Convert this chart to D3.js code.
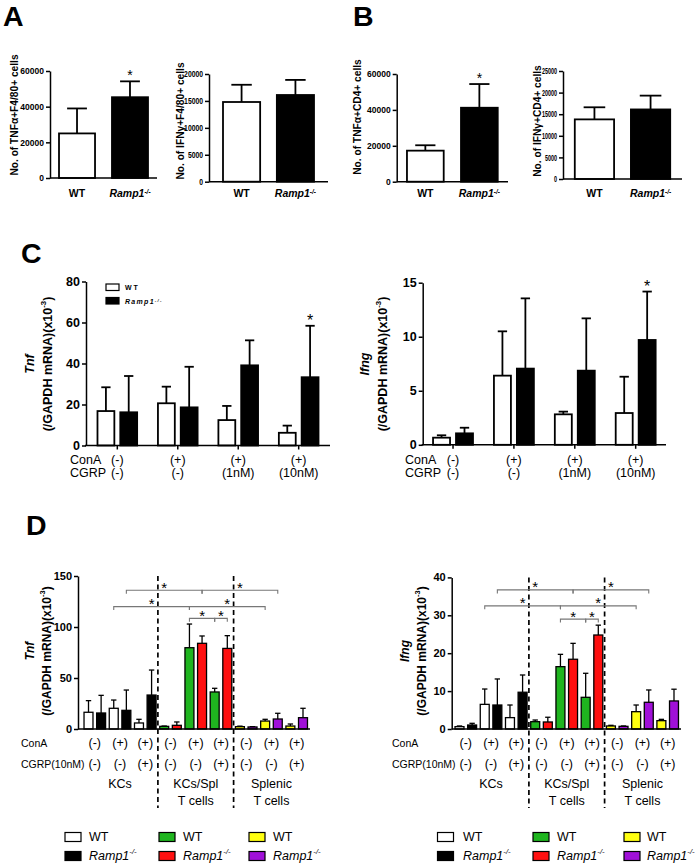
<!DOCTYPE html>
<html><head><meta charset="utf-8">
<script src="https://cdn.jsdelivr.net/npm/d3@7"></script>
<style>body{margin:0;background:#fff}svg{display:block}</style>
</head><body>
<svg id="c" width="700" height="868"></svg>
<script>
// ---------------- DATA ----------------
const genotypes = ["WT", "Ramp1"];
// Panel A (F4/80+ cells)
const aTnfMean = [25000, 45300], aTnfErr = [14000, 8900];
const aIfnMean = [14800, 16100], aIfnErr = [3200, 2800];
// Panel B (CD4+ cells)
const bTnfMean = [17300, 41200], bTnfErr = [3000, 13200];
const bIfnMean = [13800, 16100], bIfnErr = [2800, 3200];
const ticksA1 = [0, 20000, 40000, 60000];
const ticksA2 = [0, 5000, 10000, 15000, 20000];
const ticksB1 = [0, 20000, 40000, 60000];
const ticksB2 = [0, 5000, 10000, 15000, 20000, 25000];
// Panel C
const cConA = ["(-)", "(+)", "(+)", "(+)"];
const cCgrp = ["(-)", "(-)", "(1nM)", "(10nM)"];
const cTnfWT = [16.8, 20.6, 12.4, 6.2], cTnfWTErr = [11.6, 8.1, 6.9, 3.5];
const cTnfKO = [16.2, 18.6, 39.1, 33.3], cTnfKOErr = [17.7, 19.8, 12.2, 25.1];
const cIfnWT = [0.66, 6.4, 2.82, 2.94], cIfnWTErr = [0.22, 4.1, 0.25, 3.36];
const cIfnKO = [1.06, 7.05, 6.86, 9.7], cIfnKOErr = [0.52, 6.5, 4.84, 4.48];
const ticksCTnf = [0, 20, 40, 60, 80];
const ticksCIfn = [0, 5, 10, 15];
// Panel D
const dGroups = ["KCs", "KCs/Spl", "Splenic"];
const dGroupLines = [["KCs"], ["KCs/Spl", "T cells"], ["Splenic", "T cells"]];
const dConA = ["(-)", "(+)", "(+)"];
const dCgrp = ["(-)", "(-)", "(+)"];
const dTnf = [16.4, 15.7, 20.3, 18.3, 5.9, 33.3, 2.6, 3.6, 79.7, 84, 36.3, 79, 2.3, 2, 7.8, 9.8, 2.9, 11.1];
const dTnfErr = [11.4, 17.3, 8.1, 19.9, 3.6, 24.5, 0.3, 3.3, 23.2, 7.2, 3.6, 12.5, 0.5, 0.3, 1.7, 5.6, 2, 9.2];
const dIfn = [0.62, 1.05, 6.5, 6.33, 3, 9.7, 1.93, 1.85, 16.45, 18.4, 8.36, 24.8, 0.8, 0.7, 4.57, 7.05, 2.2, 7.4];
const dIfnErr = [0.18, 0.45, 4.05, 6.87, 3.33, 4.55, 0.44, 1.25, 3.25, 4.2, 6.34, 2.6, 0.17, 0.1, 1.76, 3.25, 0.35, 3.1];
const ticksDTnf = [0, 50, 100, 150];
const ticksDIfn = [0, 10, 20, 30, 40];
// significance brackets: [fromBar, toBar]
const dBrackets = [[3, 9], [9, 15], [2, 8], [8, 14], [8, 10], [10, 11]];
const dBracketTnf = [136, 136, 120, 120, 108.5, 108.5];
const dBracketIfn = [36.7, 36.7, 32.5, 32.5, 29, 29];
// colors
const colWT = "#ffffff", colKO = "#000000";
const groupColors = [["#ffffff", "#000000"], ["#1fb51f", "#ff1010"], ["#ffff10", "#a010d8"]];

// ---------------- HELPERS ----------------
const FONT = '"Liberation Sans", Arial, Helvetica, sans-serif';
const svg = d3.select("#c").attr("font-family", FONT);

function richText(sel, parts, fs) {
  parts.forEach(p => {
    const ts = sel.append("tspan").text(p.t);
    if (p.i) ts.attr("font-style", "italic");
    if (p.sup) ts.attr("baseline-shift", "super").attr("font-size", fs * 0.62);
  });
  return sel;
}
function rampParts() { return [{ t: "Ramp1", i: true }, { t: "-/-", i: true, sup: true }]; }

function yAxis(g, x, y, ticks, fs, sx) {
  sx = sx || 1;
  const ax = g.append("g").attr("transform", `translate(${x},0)`)
    .call(d3.axisLeft(y).tickValues(ticks).tickSize(4).tickSizeOuter(0).tickPadding(2).tickFormat(d3.format("d")));
  ax.select(".domain").attr("stroke-width", 1.5).attr("stroke", "#000");
  ax.selectAll(".tick line").attr("stroke-width", 1.5).attr("stroke", "#000");
  ax.selectAll("text").attr("font-size", fs).attr("font-weight", "bold").attr("font-family", FONT).attr("fill", "#000");
  if (sx !== 1) ax.selectAll(".tick text").attr("x", -6 / sx).attr("transform", `scale(${sx},1)`);
  return ax;
}
function rotTitle(g, x, y, parts, fs) {
  const t = g.append("text").attr("transform", `translate(${x},${y}) rotate(-90)`)
    .attr("text-anchor", "middle").attr("dominant-baseline", "central")
    .attr("font-size", fs).attr("font-weight", "bold").attr("fill", "#000");
  return richText(t, parts, fs);
}
function star(g, cx, cy, fs) {
  g.append("text").attr("x", cx).attr("y", cy + 0.57 * fs).attr("text-anchor", "middle")
    .attr("font-size", fs).attr("fill", "#000").text("*");
}
function barsWithErr(g, xs, y, means, errs, fills, sw, cap) {
  const bw = xs.bandwidth();
  means.forEach((m, i) => {
    const cx = xs(i) + bw / 2, top = y(m + errs[i]);
    g.append("line").attr("x1", cx).attr("x2", cx).attr("y1", y(m)).attr("y2", top)
      .attr("stroke", "#000").attr("stroke-width", sw);
    g.append("line").attr("x1", cx - cap / 2).attr("x2", cx + cap / 2).attr("y1", top).attr("y2", top)
      .attr("stroke", "#000").attr("stroke-width", sw);
    g.append("rect").attr("x", xs(i)).attr("width", bw).attr("y", y(m)).attr("height", y(0) - y(m))
      .attr("fill", fills[i]).attr("stroke", "#000").attr("stroke-width", sw);
  });
}

// ---------------- PANEL A / B ----------------
function smallChart(o) {
  const g = svg.append("g");
  const y = d3.scaleLinear().domain([0, o.max]).range([o.yb, o.yt]);
  const xs = d3.scaleBand().domain(d3.range(2)).range([o.x0, o.x1]).paddingInner(o.pi).paddingOuter(o.po);
  barsWithErr(g, xs, y, o.mean, o.err, [colWT, colKO], 1.8, xs.bandwidth() * 0.55);
  g.append("line").attr("x1", o.x0).attr("x2", o.x1).attr("y1", y(0)).attr("y2", y(0)).attr("stroke", "#000").attr("stroke-width", 1.5);
  yAxis(g, o.x0, y, o.ticks, 8.5, o.sx);
  rotTitle(g, o.tx, o.ty, [{ t: o.title }], 10.2);
  genotypes.forEach((gt, i) => {
    const t = g.append("text").attr("x", xs(i) + xs.bandwidth() / 2).attr("y", 197)
      .attr("text-anchor", "middle").attr("font-size", 10.5).attr("font-weight", "bold");
    if (i === 0) t.text(gt); else richText(t, rampParts(), 10.5);
  });
  if (o.star) star(g, xs(1) + xs.bandwidth() / 2, y(o.mean[1] + o.err[1]) - 9, 14);
}
smallChart({ x0: 50, x1: 157, pi: 0.32, po: 0.17, yb: 178, yt: 71, max: 60000, ticks: ticksA1, sx: 1, mean: aTnfMean, err: aTnfErr, title: "No. of TNFα+F4/80+ cells", tx: 14, ty: 115, star: true });
smallChart({ x0: 209, x1: 328, pi: 0.31, po: 0.26, yb: 181.7, yt: 74, max: 20000, ticks: ticksA2, sx: 0.8, mean: aIfnMean, err: aIfnErr, title: "No. of IFNγ+F4/80+ cells", tx: 180, ty: 121 });
smallChart({ x0: 396.7, x1: 508, pi: 0.32, po: 0.19, yb: 181.7, yt: 74, max: 60000, ticks: ticksB1, sx: 1, mean: bTnfMean, err: bTnfErr, title: "No. of TNFα+CD4+ cells", tx: 357, ty: 117, star: true });
smallChart({ x0: 563, x1: 682, pi: 0.3, po: 0.21, yb: 179, yt: 71, max: 25000, ticks: ticksB2, sx: 0.64, mean: bIfnMean, err: bIfnErr, title: "No. of IFNγ+CD4+ cells", tx: 537, ty: 121 });

// panel letters
[["A", 3, 26], ["B", 353, 26], ["C", 21, 263], ["D", 26, 535]].forEach(([l, x, yy]) => {
  svg.append("text").attr("x", x).attr("y", yy).attr("font-size", 28.5).attr("font-weight", "bold").text(l);
});

// ---------------- PANEL C ----------------
function cChart(o) {
  const g = svg.append("g");
  const y = d3.scaleLinear().domain([0, o.max]).range([o.yb, o.yt]);
  const xg = d3.scaleBand().domain(d3.range(4)).range([o.x0, o.x1]).paddingInner(0.344).paddingOuter(o.po);
  const xi = d3.scaleBand().domain([0, 1]).range([0, xg.bandwidth()]).paddingInner(0.26);
  const bw = xi.bandwidth();
  d3.range(4).forEach(k => {
    const xs = d3.scaleBand().domain([0, 1]).range([xg(k), xg(k) + xg.bandwidth()]).paddingInner(0.26);
    barsWithErr(g, xs, y, [o.wt[k], o.ko[k]], [o.wtE[k], o.koE[k]], [colWT, colKO], 1.8, bw * 0.55);
  });
  g.append("line").attr("x1", o.x0 - 1).attr("x2", o.x1).attr("y1", y(0)).attr("y2", y(0)).attr("stroke", "#000").attr("stroke-width", 1.5);
  d3.range(4).forEach(k => {
    const cx = xg(k) + xg.bandwidth() / 2;
    g.append("line").attr("x1", cx).attr("x2", cx).attr("y1", y(0)).attr("y2", y(0) + 4).attr("stroke", "#000").attr("stroke-width", 1.5);
    g.append("text").attr("x", cx).attr("y", 460).attr("dominant-baseline", "central").attr("text-anchor", "middle").attr("font-size", 12.5).text(cConA[k]);
    g.append("text").attr("x", cx).attr("y", 473).attr("dominant-baseline", "central").attr("text-anchor", "middle").attr("font-size", 12.5).text(cCgrp[k]);
  });
  g.append("text").attr("x", o.lx).attr("y", 460).attr("dominant-baseline", "central").attr("font-size", 12.5).text("ConA");
  g.append("text").attr("x", o.lx).attr("y", 473).attr("dominant-baseline", "central").attr("font-size", 12.5).text("CGRP");
  yAxis(g, o.x0, y, o.ticks, 12.5);
  rotTitle(g, o.tx, o.ty, [{ t: o.gene, i: true }], 12.5);
  rotTitle(g, o.tx + 18, o.ty, [{ t: "(/GAPDH mRNA)(x10" }, { t: "-3", sup: true }, { t: ")" }], 12.5);
  const k = 3, cx = xg(k) + xi(1) + bw / 2;
  star(g, cx, y(o.ko[k] + o.koE[k]) - 9, 16);
  return { g, xg };
}
cChart({ x0: 86, x1: 330, po: 0.19, yb: 445.5, yt: 281.5, max: 80, ticks: ticksCTnf, wt: cTnfWT, wtE: cTnfWTErr, ko: cTnfKO, koE: cTnfKOErr, gene: "Tnf", tx: 30, ty: 364, lx: 70 });
cChart({ x0: 422.7, x1: 666, po: 0.17, yb: 444.8, yt: 282.7, max: 15, ticks: ticksCIfn, wt: cIfnWT, wtE: cIfnWTErr, ko: cIfnKO, koE: cIfnKOErr, gene: "Ifng", tx: 365, ty: 364, lx: 405 });
// legend C
{
  const g = svg.append("g");
  g.append("rect").attr("x", 106).attr("y", 284).attr("width", 13).attr("height", 6.5).attr("fill", colWT).attr("stroke", "#000").attr("stroke-width", 1.2);
  g.append("rect").attr("x", 106).attr("y", 297.5).attr("width", 13).attr("height", 6.5).attr("fill", colKO).attr("stroke", "#000").attr("stroke-width", 1.2);
  g.append("text").attr("x", 125).attr("y", 290).attr("font-size", 7).attr("font-weight", "bold").attr("letter-spacing", 2).text("WT");
  richText(g.append("text").attr("x", 125).attr("y", 304).attr("font-size", 7).attr("font-weight", "bold").attr("letter-spacing", 1.3), rampParts(), 7);
}

// ---------------- PANEL D ----------------
function dChart(o) {
  const g = svg.append("g");
  const y = d3.scaleLinear().domain([0, o.max]).range([729, o.yt]);
  const xs = d3.scaleBand().domain(d3.range(18)).range([o.x0, o.x1]).paddingInner(0.29).paddingOuter(0.2);
  const bw = xs.bandwidth(), step = xs.step();
  const fills = d3.range(18).map(i => groupColors[Math.floor(i / 6)][i % 2]);
  barsWithErr(g, xs, y, o.vals, o.errs, fills, 1.3, bw * 0.6);
  g.append("line").attr("x1", o.axisX).attr("x2", o.x1).attr("y1", y(0)).attr("y2", y(0)).attr("stroke", "#000").attr("stroke-width", 1.5);
  yAxis(g, o.axisX, y, o.ticks, 11);
  rotTitle(g, o.tx, 651, [{ t: o.gene, i: true }], 12);
  rotTitle(g, o.tx + 17, 651, [{ t: "(/GAPDH mRNA)(x10" }, { t: "-3", sup: true }, { t: ")" }], 12);
  // dashed separators
  [6, 12].forEach(i => {
    const x = xs(i) - (step - bw) / 2;
    g.append("line").attr("x1", x).attr("x2", x).attr("y1", y(o.max)).attr("y2", 808)
      .attr("stroke", "#000").attr("stroke-width", 1.7).attr("stroke-dasharray", "5,3.5");
  });
  // condition labels
  d3.range(9).forEach(p => {
    const cx = (xs(2 * p) + xs(2 * p + 1) + bw) / 2;
    g.append("text").attr("x", cx).attr("y", 743).attr("dominant-baseline", "central").attr("text-anchor", "middle").attr("font-size", 12.5).text(dConA[p % 3]);
    g.append("text").attr("x", cx).attr("y", 764).attr("dominant-baseline", "central").attr("text-anchor", "middle").attr("font-size", 12.5).text(dCgrp[p % 3]);
  });
  g.append("text").attr("x", o.lx).attr("y", 743).attr("dominant-baseline", "central").attr("font-size", 10.5).text("ConA");
  g.append("text").attr("x", o.lx).attr("y", 764).attr("dominant-baseline", "central").attr("font-size", 10.5).text("CGRP(10nM)");
  dGroupLines.forEach((lines, k) => {
    const cx = (xs(6 * k) + xs(6 * k + 5) + bw) / 2;
    lines.forEach((ln, j) => {
      g.append("text").attr("x", cx).attr("y", 784 + j * 17).attr("dominant-baseline", "central").attr("text-anchor", "middle").attr("font-size", 12.5).text(ln);
    });
  });
  // brackets
  dBrackets.forEach(([a, b], k) => {
    const xa = xs(a) + bw / 2, xb = xs(b) + bw / 2, yy = y(o.br[k]);
    g.append("path").attr("d", `M${xa},${yy + 3.5}V${yy}H${xb}V${yy + 3.5}`)
      .attr("fill", "none").attr("stroke", "#777").attr("stroke-width", 1.1);
    star(g, (xa + xb) / 2, yy - 6, 15);
  });
}
dChart({ axisX: 78, x0: 81.5, x1: 310, yt: 576, max: 150, ticks: ticksDTnf, vals: dTnf, errs: dTnfErr, gene: "Tnf", tx: 30, lx: 21, br: dBracketTnf });
dChart({ axisX: 451.7, x0: 452.5, x1: 681, yt: 577.4, max: 40, ticks: ticksDIfn, vals: dIfn, errs: dIfnErr, gene: "Ifng", tx: 405, lx: 392, br: dBracketIfn });

// ---------------- BOTTOM LEGEND ----------------
function bottomLegend(boxX, textX) {
  const g = svg.append("g");
  groupColors.forEach((pair, c) => {
    pair.forEach((col, r) => {
      const yy = 837 + r * 19;
      g.append("rect").attr("x", boxX[c]).attr("y", yy - 4.5).attr("width", 16).attr("height", 9)
        .attr("fill", col).attr("stroke", "#000").attr("stroke-width", 1.2);
      const t = g.append("text").attr("x", textX[c]).attr("y", yy).attr("dominant-baseline", "central").attr("font-size", 12.5);
      if (r === 0) t.text("WT"); else richText(t, rampParts(), 12.5);
    });
  });
}
bottomLegend([65, 159, 249], [89, 183, 273]);
bottomLegend([437.5, 533, 624], [463, 557, 647]);
</script>
</body></html>
